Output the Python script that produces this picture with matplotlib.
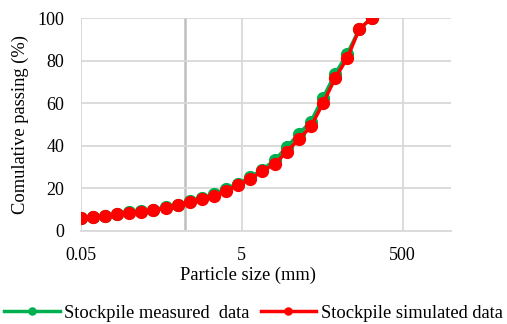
import matplotlib.pyplot as plt

plt.rcParams['font.family'] = ['Liberation Serif', 'DejaVu Serif']

# sieve sizes (mm)
sizes = [0.05, 0.071, 0.1, 0.141, 0.2, 0.283, 0.4, 0.566, 0.8, 1.13, 1.6, 2.26,
         3.2, 4.53, 6.4, 9.05, 12.8, 18.1, 25.6, 36.2, 51.2, 72.4, 102.4, 144.8, 204.8]

measured = [6.1, 6.5, 7.0, 7.8, 8.6, 9.1, 9.9, 11.1, 12.3, 14.0, 15.5, 17.2,
            19.8, 22.2, 25.1, 28.8, 33.2, 39.3, 45.6, 51.4, 62.6, 73.8, 83.3, 95.0, 100.0]
simulated = [6.1, 6.4, 6.9, 7.7, 8.5, 8.9, 9.6, 10.7, 11.9, 13.7, 15.1, 16.3,
             18.8, 21.5, 24.2, 28.3, 31.2, 37.2, 43.0, 49.1, 60.0, 71.8, 81.3, 95.0, 100.0]

xticks = [0.05, 5, 500]
xtick_labels = ['0.05', '5', '500']

fig = plt.figure(figsize=(5.07, 3.24), dpi=100)
ax = fig.add_axes([80.7 / 507, 1 - 230.7 / 324, 370 / 507, 212.4 / 324])

ax.plot(sizes, measured, color='#00B050', lw=2.5, marker='o', ms=8.5,
        label='Stockpile measured  data', zorder=3)
ax.plot(sizes, simulated, color='#FF0000', lw=2.5, marker='o', ms=8.5,
        label='Stockpile simulated data', zorder=4)

ax.set_xscale('log')
ax.set_xlim(0.05, 1972)
ax.set_ylim(0, 100)
ax.set_xticks(xticks)
ax.set_xticklabels(xtick_labels)
ax.minorticks_off()
ax.set_yticks([0, 20, 40, 60, 80, 100])

ax.grid(True, color='#D9D9D9', lw=1.3, zorder=0)
ax.axvline(1.0, color='#BFBFBF', lw=1.8, zorder=1)
ax.axvline(0.05, color='#D9D9D9', lw=1.3, zorder=1)

for s in ['top', 'right', 'left']:
    ax.spines[s].set_visible(False)
ax.spines['bottom'].set_color('#D9D9D9')
ax.spines['bottom'].set_linewidth(1.3)
ax.tick_params(length=0, labelsize=13)
ax.tick_params(axis='y', pad=12)
ax.tick_params(axis='x', pad=12)

ax.set_xlabel('Particle size (mm)', fontsize=13.3)
ax.xaxis.set_label_coords((248 - 80.7) / 370, -0.17)
ax.set_ylabel('Comulative passing (%)', fontsize=13.3, labelpad=6)

fig.legend(loc='center', bbox_to_anchor=(0.5, 1 - 313 / 324), ncol=2, frameon=False,
           fontsize=13.3, markerscale=0.6, handlelength=3.0, columnspacing=0.6,
           handletextpad=0.25, borderaxespad=0, borderpad=0)

fig.savefig('out.png', dpi=100)
